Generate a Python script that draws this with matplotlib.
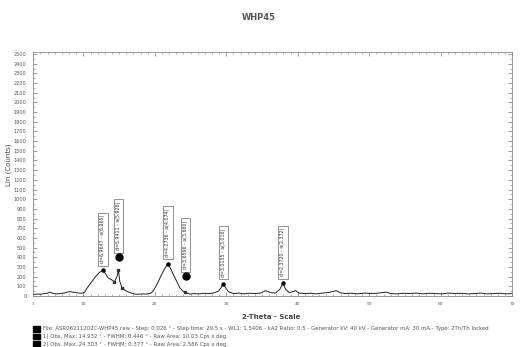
import numpy as np
import matplotlib.pyplot as plt
from matplotlib.patches import Rectangle

# Scan data: 2-Theta (deg) vs Lin (Counts)
two_theta = [3.0, 3.5, 4.0, 4.5, 5.0, 5.3, 5.7, 6.2, 6.8, 7.3, 7.8, 8.2, 8.6, 9.0, 9.4, 9.8,
             10.2, 10.5, 11.0, 11.7, 12.2, 12.7, 13.1, 13.5, 14.0, 14.35, 14.7, 14.9, 15.1,
             15.4, 15.9, 16.5, 17.2, 17.7, 18.2, 18.7, 19.3, 19.7, 20.0, 20.5, 20.9, 21.4,
             21.8, 22.2, 22.5, 23.0, 23.5, 24.0, 24.3, 24.9, 25.5, 26.2, 26.8, 27.5, 28.2,
             28.9, 29.3, 29.6, 29.9, 30.3, 31.0, 31.8, 32.5, 33.2, 34.0, 34.8, 35.5, 36.2,
             36.9, 37.5, 37.9, 38.3, 38.8, 39.3, 39.7, 40.2, 41.0, 41.8, 42.6, 43.4, 44.2,
             44.9, 45.4, 45.9, 46.6, 47.5, 48.4, 49.3, 50.2, 51.1, 51.8, 52.4, 53.0, 53.9,
             54.8, 55.7, 56.6, 57.5, 58.4, 59.3, 60.2, 61.1, 62.0, 62.9, 63.8, 64.7, 65.6,
             66.5, 67.4, 68.3, 69.2, 70.0]
counts = [15, 20, 18, 25, 30, 40, 28, 22, 25, 30, 42, 45, 38, 35, 30, 28,
          40, 80, 130, 200, 240, 265, 230, 185, 165, 145, 200, 268, 150,
          85, 55, 35, 20, 18, 22, 20, 25, 45, 80, 150, 215, 285,
          330, 285, 235, 160, 85, 45, 35, 20, 25, 22, 28, 25, 30,
          50, 90, 125, 85, 45, 25, 30, 22, 28, 25, 30, 55, 35,
          30, 70, 130, 70, 35, 45, 55, 30, 25, 28, 22, 30, 35,
          45, 55, 35, 25, 28, 22, 30, 25, 28, 35, 40, 25, 22,
          28, 25, 30, 22, 28, 25, 22, 30, 25, 28, 22, 25, 30,
          22, 25, 28, 22, 25]

# Labelled peaks (label anchor heights)
peak_pos = [12.7, 14.9, 21.8, 24.3, 29.6, 37.9]
peak_cts = [265, 400, 330, 205, 125, 130]
peak_text = ["d=6.9647 - a(6.965)", "d=5.9411 - a(5.928)", "d=4.0736 - a(4.074)",
             "d=3.6596 - a(3.660)", "d=3.0155 - a(3.016)", "d=2.3720 - a(2.372)"]

# Peak-search results (from the legend)
search_pos = [14.932, 24.303]
search_cts = [400, 205]
legend_lines = [
    "File: ASR06211202C-WHP45.raw - Step: 0.026 \u00b0 - Step time: 29.5 s - WL1: 1.5406 - kA2 Ratio: 0.5 - Generator kV: 40 kV - Generator mA: 30 mA - Type: 2Th/Th locked",
    "1) Obs. Max: 14.932 \u00b0 - FWHM: 0.446 \u00b0 - Raw Area: 10.03 Cps x deg.",
    "2) Obs. Max: 24.303 \u00b0 - FWHM: 0.377 \u00b0 - Raw Area: 2.586 Cps x deg.",
]

fig = plt.figure(figsize=(5.21, 3.47), dpi=100)
ax = fig.add_axes([0.064, 0.147, 0.919, 0.703])

ax.plot(two_theta, counts, color="#222222", linewidth=0.7)
ax.plot(peak_pos, peak_cts, "o", color="black", markersize=2.2)
ax.plot(search_pos, search_cts, "o", color="black", markersize=5, zorder=5)
ax.plot([14.35, 15.4, 24.2, 14.9], [145, 85, 45, 268], "s", color="#333333", markersize=2)

for x, y, t in zip(peak_pos, peak_cts, peak_text):
    ax.annotate(t, (x, y), xytext=(0, 5), textcoords="offset points",
                rotation=90, ha="center", va="bottom", fontsize=3.4,
                color="#333333", zorder=3,
                bbox=dict(boxstyle="square,pad=0.5", fc="white", ec="#666666", lw=0.5))

ax.set_xlim(3, 70)
ax.set_ylim(0, 2520)
ax.set_xticks([3, 10, 20, 30, 40, 50, 60, 70])
ax.set_xticks(np.arange(3, 71, 1), minor=True)
ax.set_yticks(np.arange(0, 2501, 100))
ax.set_yticks(np.arange(0, 2501, 50), minor=True)
ax.tick_params(axis="both", which="both", direction="in", top=True, right=True,
               colors="#777777", labelcolor="#555555")
ax.tick_params(axis="x", labelsize=3.2, pad=4)
ax.tick_params(axis="y", labelsize=3.6, pad=5)
ax.tick_params(which="major", length=3, width=0.5)
ax.tick_params(which="minor", length=1.5, width=0.4)
for s in ax.spines.values():
    s.set_color("#888888")
    s.set_linewidth(0.6)

ax.set_ylabel("Lin (Counts)", fontsize=5, color="#444444", labelpad=2)
ax.yaxis.set_label_coords(-0.044, 0.54)
fig.text(0.52, 0.087, "2-Theta - Scale", ha="center", va="center",
         fontsize=5, fontweight="bold", color="#444444")
fig.text(0.497, 0.95, "WHP45", ha="center", va="center",
         fontsize=6, fontweight="bold", color="#555555")

for i, line in enumerate(legend_lines):
    yy = 0.052 - i * 0.022
    fig.patches.append(Rectangle((0.064, yy - 0.008), 0.012, 0.016,
                                 transform=fig.transFigure, color="black"))
    fig.text(0.082, yy, line, fontsize=3.9, va="center", color="#555555")

fig.savefig("out.png", dpi=100)
